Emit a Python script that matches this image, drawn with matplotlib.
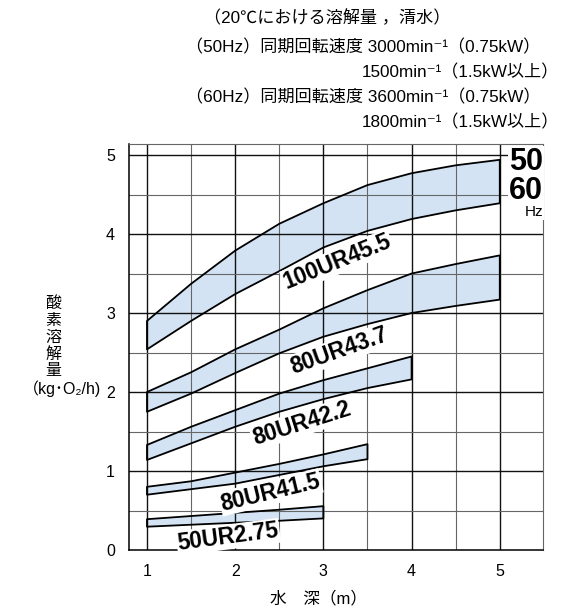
import matplotlib
matplotlib.use("Agg")
import matplotlib.pyplot as plt
import numpy as np

# ---------------- data ----------------
x_100 = [1, 1.5, 2, 2.5, 3, 3.5, 4, 4.5, 5]
hi_100 = [2.90, 3.37, 3.79, 4.13, 4.39, 4.62, 4.77, 4.87, 4.94]
lo_100 = [2.54, 2.90, 3.24, 3.53, 3.83, 4.04, 4.19, 4.30, 4.39]

x_437 = [1, 1.5, 2, 2.5, 3, 3.5, 4, 4.5, 5]
hi_437 = [2.00, 2.25, 2.54, 2.79, 3.06, 3.29, 3.50, 3.62, 3.73]
lo_437 = [1.75, 1.98, 2.24, 2.49, 2.70, 2.86, 3.00, 3.09, 3.17]

x_422 = [1, 1.5, 2, 2.5, 3, 3.5, 4]
hi_422 = [1.33, 1.56, 1.77, 1.98, 2.15, 2.30, 2.45]
lo_422 = [1.14, 1.35, 1.56, 1.75, 1.91, 2.05, 2.16]

x_415 = [1, 1.5, 2, 2.5, 3, 3.5]
hi_415 = [0.80, 0.87, 0.98, 1.09, 1.21, 1.34]
lo_415 = [0.70, 0.77, 0.84, 0.95, 1.06, 1.15]

x_275 = [1, 1.5, 2, 2.5, 3]
hi_275 = [0.39, 0.43, 0.47, 0.51, 0.555]
lo_275 = [0.295, 0.32, 0.345, 0.37, 0.40]

band_names = ["100UR45.5", "80UR43.7", "80UR42.2", "80UR41.5", "50UR2.75"]
bands = [(x_100, hi_100, lo_100), (x_437, hi_437, lo_437),
         (x_422, hi_422, lo_422), (x_415, hi_415, lo_415),
         (x_275, hi_275, lo_275)]
# label anchor (data coords) and rotation
label_pos = [(3.16, 3.65, 22), (3.18, 2.52, 19.5), (2.75, 1.60, 17.5),
             (2.40, 0.73, 13.5), (1.92, 0.165, 7.5)]

x_ticks = [1, 2, 3, 4, 5]
y_ticks = [0, 1, 2, 3, 4, 5]

title_lines = ["（20℃における溶解量 ，清水）",
               "（50Hz）同期回転速度 3000min⁻¹（0.75kW）",
               "1500min⁻¹（1.5kW以上）",
               "（60Hz）同期回転速度 3600min⁻¹（0.75kW）",
               "1800min⁻¹（1.5kW以上）"]
ylabel_chars = ["酸", "素", "溶", "解", "量"]
ylabel_unit = "（kg･O₂/h)"
xlabel = "水　深（m）"

MIX = ["Liberation Sans", "Noto Sans CJK JP", "DejaVu Sans"]
CJK = ["Noto Sans CJK JP", "DejaVu Sans"]
LAT = ["Liberation Sans", "DejaVu Sans"]

W, H = 581, 610
fig = plt.figure(figsize=(W / 100, H / 100), dpi=100)
L, R, T, B = 129, 543, 144, 550
ax = fig.add_axes([L / W, (H - B) / H, (R - L) / W, (B - T) / H])
ax.set_xlim(0.796, 5.49)
ax.set_ylim(0, 5.14)

fill_c = "#d3e3f4"
for (xs, hi, lo) in bands:
    px = list(xs) + list(xs[::-1])
    py = list(hi) + list(lo[::-1])
    ax.fill(px, py, facecolor=fill_c, edgecolor="none", zorder=1)
    ax.fill(px, py, facecolor="none", edgecolor="black", lw=1.3,
            joinstyle="round", zorder=3)

# grid
for v in np.arange(1, 5.01, 0.5):
    major = abs(v - round(v)) < 1e-6
    ax.axvline(v, color="#111111" if major else "#666666",
               lw=1.0 if major else 0.8, zorder=2)
for v in np.arange(0.5, 5.01, 0.5):
    major = abs(v - round(v)) < 1e-6
    ax.axhline(v, color="#111111" if major else "#666666",
               lw=1.0 if major else 0.8, zorder=2)

for s in ["top", "right"]:
    ax.spines[s].set_color("#666666")
    ax.spines[s].set_linewidth(0.8)
for s in ["left", "bottom"]:
    ax.spines[s].set_color("black")
    ax.spines[s].set_linewidth(1.1)

ax.set_xticks(x_ticks)
ax.set_yticks(y_ticks)
ax.set_xticklabels([str(t) for t in x_ticks], family=LAT, fontsize=11.5)
ax.set_yticklabels([str(t) for t in y_ticks], family=LAT, fontsize=11.5)
ax.tick_params(axis="both", length=0)
ax.tick_params(axis="x", pad=10)
ax.tick_params(axis="y", pad=10)

for name, (lx, ly, rot) in zip(band_names, label_pos):
    ax.text(lx, ly, name, family=LAT, fontweight="bold", fontsize=16.3,
            rotation=rot, rotation_mode="anchor", ha="center", va="center",
            zorder=4,
            bbox=dict(boxstyle="square,pad=0.04", fc="white", ec="none"))


def fx(px):
    return px / W


def fy(py):
    return 1 - py / H


# 50 / 60 Hz labels
fig.text(fx(543), fy(162), "50", family=LAT, fontweight="bold", fontsize=22,
         ha="right", va="center", zorder=5,
         bbox=dict(boxstyle="square,pad=0.02", fc="white", ec="none"))
fig.text(fx(543), fy(191), "60", family=LAT, fontweight="bold", fontsize=22,
         ha="right", va="center", zorder=5,
         bbox=dict(boxstyle="square,pad=0.02", fc="white", ec="none"))
fig.text(fx(543), fy(212), "Hz", family=LAT, fontsize=11,
         ha="right", va="center", zorder=5,
         bbox=dict(boxstyle="square,pad=0.05", fc="white", ec="none"))

# header
HS = 12.3
fig.text(fx(204), fy(18), title_lines[0], family=MIX, fontsize=HS,
         ha="left", va="center")
fig.text(fx(186), fy(47), title_lines[1], family=MIX, fontsize=HS,
         ha="left", va="center")
fig.text(fx(559), fy(72), title_lines[2], family=MIX, fontsize=HS,
         ha="right", va="center")
fig.text(fx(186), fy(97), title_lines[3], family=MIX, fontsize=HS,
         ha="left", va="center")
fig.text(fx(559), fy(122), title_lines[4], family=MIX, fontsize=HS,
         ha="right", va="center")

# y label
for i, ch in enumerate(ylabel_chars):
    fig.text(fx(53), fy(303 + i * 17), ch, family=CJK, fontsize=11.5,
             ha="center", va="center")
fig.text(fx(62), fy(389), ylabel_unit, family=MIX, fontsize=11.5,
         ha="center", va="center")

fig.text(fx(318), fy(598), xlabel, family=MIX, fontsize=12,
         ha="center", va="center")

fig.savefig("out.png", dpi=100)
